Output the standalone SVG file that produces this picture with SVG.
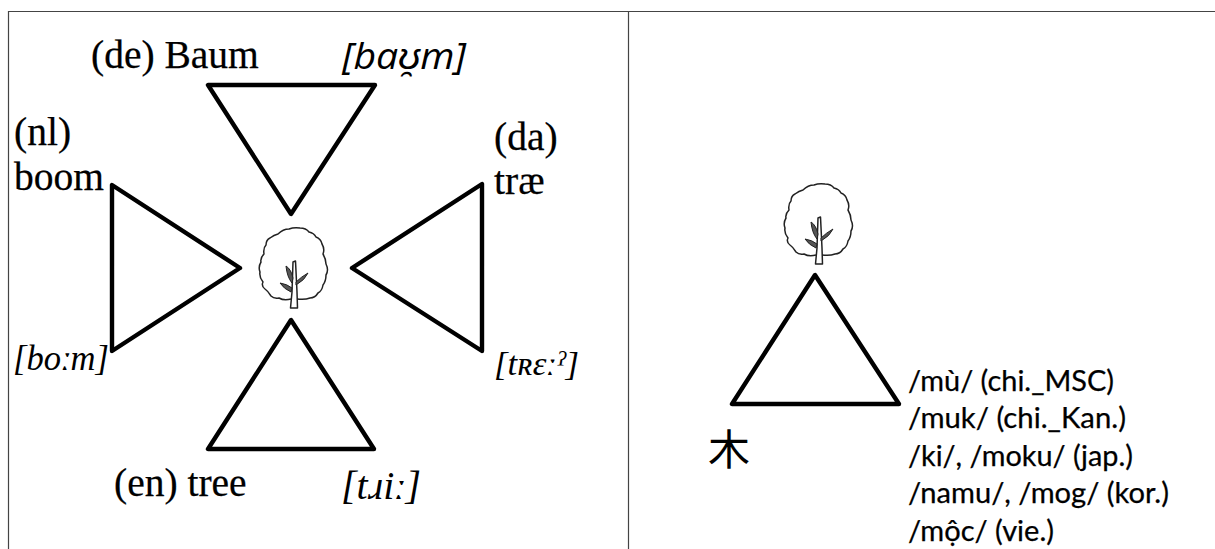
<svg xmlns="http://www.w3.org/2000/svg" xmlns:xlink="http://www.w3.org/1999/xlink" width="1215" height="549" viewBox="0 0 1215 549">
<style>
.tri{fill:none;stroke:#000;stroke-width:4.4;stroke-linejoin:round}
.frame{fill:none;stroke:#444;stroke-width:1.2}
.s{font-family:"Liberation Serif","Times New Roman",serif;font-size:39.5px;fill:#000;stroke:#000;stroke-width:.25}
.si{font-family:"Liberation Serif","Times New Roman",serif;font-style:italic;fill:#000}
.ai{font-family:"Open Sans","Liberation Sans",sans-serif;font-style:italic;font-size:36px;fill:#000}
.c{font-family:Lato,"Open Sans",sans-serif;font-size:28px;fill:#000;stroke:#000;stroke-width:.25}
.crown{fill:#fff;stroke:#222;stroke-width:1.5;stroke-linejoin:round}
.trunk{fill:#fff;stroke:#222;stroke-width:1.5;stroke-linejoin:round}
.br{fill:#555;stroke:#222;stroke-width:1}
</style>
<defs>
<g id="tree">
<path class="crown" d="M291 299Q284 301 279 298Q274 299 271 296Q268 291 265 289Q261 286 263 282Q259 277 260 272Q258 267 261 262Q260 258 264 254Q263 248 266 245Q266 240 270 238Q274 235 278 234Q283 229 289 229Q294 227 300 228Q306 228 309 232Q314 233 316 237Q321 239 322 244Q325 249 323 254Q326 259 326 264Q329 270 326 275Q326 281 323 285Q322 291 318 293Q315 298 310 298Q305 300 297 299"/>
<path class="trunk" d="M290.500 308L292 292L293 262L295.500 261L297 292L297.500 308Z"/>
<path class="br" d="M292 283Q287 277 286 266Q291 269 293 278ZM296 282Q301 277 308 273Q305 280 296 285ZM291 292Q284 289 280 283Q287 284 292 288Z"/>
</g>
</defs>
<g id="frame">
<path class="frame" d="M8.500 549V11.500H1215"/>
<path class="frame" d="M628.500 11.500V549"/>
</g>
<g id="connectors"></g>
<g id="node-de">
<polygon class="tri" points="208,85 375,85 291,214"/>
<text class="s" x="91" y="68">(de) Baum</text>
<text class="ai" x="342" y="69" textLength="124" lengthAdjust="spacingAndGlyphs">[baʊ̯m]</text>
</g>
<g id="node-nl">
<polygon class="tri" points="112,185 112,351 240,268"/>
<text class="s" x="14" y="145">(nl)</text>
<text class="s" x="14" y="190">boom</text>
<text class="si" x="13" y="370" font-size="36" textLength="96" lengthAdjust="spacingAndGlyphs">[boːm]</text>
</g>
<g id="node-da">
<polygon class="tri" points="482,184 482,351 352,268"/>
<text class="s" x="494" y="150">(da)</text>
<text class="s" x="494" y="194">træ</text>
<text class="si" x="494" y="375" font-size="34" textLength="85" lengthAdjust="spacingAndGlyphs">[tʀɛːˀ]</text>
</g>
<g id="node-en">
<polygon class="tri" points="208,449 374,449 291,320"/>
<text class="s" x="114" y="496">(en) tree</text>
<text class="si" x="341" y="499" font-size="40" textLength="80" lengthAdjust="spacingAndGlyphs">[tɹiː]</text>
</g>
<g id="node-tree-left"><use href="#tree" xlink:href="#tree"/></g>
<g id="node-tree-right"><use href="#tree" xlink:href="#tree" transform="translate(525,-44)"/></g>
<g id="node-mu">
<polygon class="tri" points="732,404 899,404 815,275"/>
<text x="708" y="465" font-family="'Noto Sans CJK JP','Noto Sans CJK SC',sans-serif" font-size="42" fill="#000">木</text>
<text class="c" x="908" y="391" textLength="206" lengthAdjust="spacingAndGlyphs">/mù/ (chi._MSC)</text>
<text class="c" x="908" y="428" textLength="218" lengthAdjust="spacingAndGlyphs">/muk/ (chi._Kan.)</text>
<text class="c" x="908" y="466" textLength="225" lengthAdjust="spacingAndGlyphs">/ki/, /moku/ (jap.)</text>
<text class="c" x="908" y="503" textLength="261" lengthAdjust="spacingAndGlyphs">/namu/, /mog/ (kor.)</text>
<text class="c" x="908" y="541" textLength="146" lengthAdjust="spacingAndGlyphs">/mộc/ (vie.)</text>
</g>
</svg>
